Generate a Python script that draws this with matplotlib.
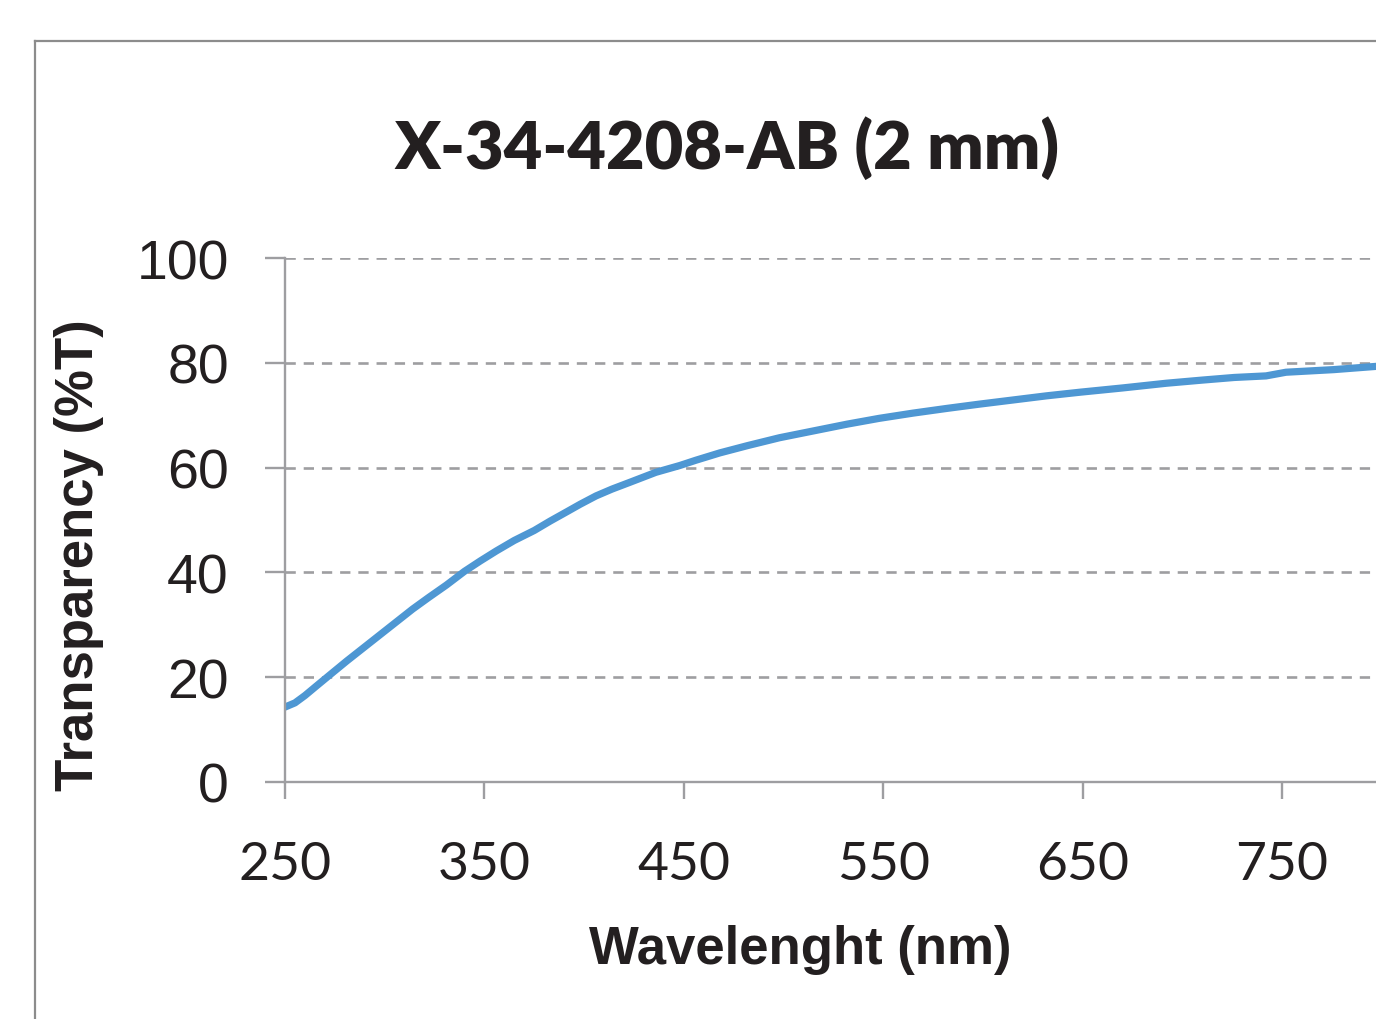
import matplotlib
matplotlib.use("Agg")
import matplotlib.pyplot as plt
from matplotlib.lines import Line2D

# Transmission spectrum
wavelength = [250, 255, 260, 266, 273, 281, 290, 298, 306, 314, 322, 331, 340,
              348, 356, 365, 375, 383, 391, 398, 406, 414, 423, 436, 448, 456,
              468, 482, 498, 515, 532, 548, 565, 582, 598, 615, 632, 649, 670,
              692, 710, 726, 742, 752, 776, 800]
transparency = [14.3, 15.1, 16.5, 18.4, 20.6, 23.1, 25.8, 28.2, 30.6, 33.0,
                35.2, 37.6, 40.2, 42.2, 44.1, 46.1, 48.0, 49.8, 51.5, 53.0,
                54.6, 55.9, 57.2, 59.1, 60.4, 61.4, 62.8, 64.2, 65.7, 67.0,
                68.3, 69.4, 70.4, 71.3, 72.1, 72.9, 73.7, 74.4, 75.2, 76.1,
                76.7, 77.2, 77.5, 78.2, 78.7, 79.4]

x_ticks = [250, 350, 450, 550, 650, 750]
y_ticks = [0, 20, 40, 60, 80, 100]

W, H = 1376, 1020
grey = '#9E9EA1'
blue = '#4E97D3'
ink = '#231F20'

fig = plt.figure(figsize=(W / 100, H / 100), dpi=100)

# axes placed in pixel terms of the original picture
left, right, bottom, top = 285, 1376, 783, 259
ax = fig.add_axes([left / W, (H - bottom) / H, (right - left) / W, (bottom - top) / H])
px_per_nm = (1282 - 285) / 500
ax.set_xlim(250, 250 + (right - left) / px_per_nm)
ax.set_ylim(0, 100)

ax.plot(wavelength, transparency, color=blue, lw=5.2, solid_capstyle='round',
        solid_joinstyle='round')

for v in y_ticks[1:]:
    ax.axhline(v, color=grey, lw=1.9, ls=(0, (3.9, 3.0)), zorder=0)

for s in ['top', 'right']:
    ax.spines[s].set_visible(False)
for s in ['left', 'bottom']:
    ax.spines[s].set_color(grey)
    ax.spines[s].set_linewidth(1.7)

ax.set_xticks(x_ticks)
ax.set_yticks(y_ticks)
ax.tick_params(axis='y', length=14.5, width=1.7, color=grey, pad=26,
               labelsize=40, labelcolor=ink)
ax.tick_params(axis='x', length=12.5, width=1.7, color=grey, pad=30,
               labelsize=38.5, labelcolor=ink)
for lab in ax.get_yticklabels():
    lab.set_fontfamily('Liberation Sans')
for lab in ax.get_xticklabels():
    lab.set_fontfamily('Lato')

fig.text(726.5 / W, 1 - 148 / H, 'X-34-4208-AB (2 mm)', ha='center', va='center',
         fontsize=48, fontweight='heavy', family='Lato', color=ink)
fig.text(800 / W, 1 - 950 / H, 'Wavelenght (nm)', ha='center', va='center',
         fontsize=38, fontweight='bold', family='Liberation Sans', color=ink)
fig.text(79 / W, 1 - 555 / H, 'Transparency (%T)', ha='center', va='center',
         rotation=90, fontsize=38, fontweight='bold', family='Liberation Sans',
         color=ink)

# outer chart frame (cropped at right and bottom)
fig.add_artist(Line2D([35 / W, 35 / W], [0, 1 - 42 / H], transform=fig.transFigure,
                      color='#8C8C8C', lw=1.6))
fig.add_artist(Line2D([35 / W, 1], [1 - 42 / H, 1 - 42 / H], transform=fig.transFigure,
                      color='#8C8C8C', lw=1.6))

fig.savefig('out.png', dpi=100)
